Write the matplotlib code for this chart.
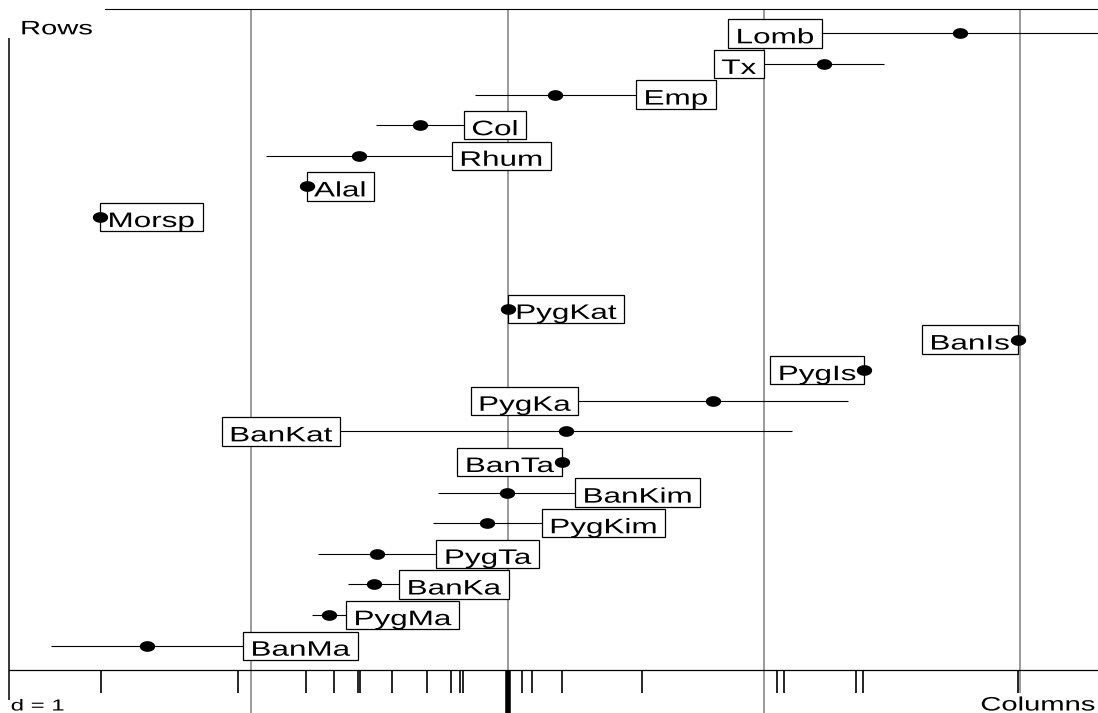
import numpy as np
import matplotlib
matplotlib.use("Agg")
import matplotlib.pyplot as plt
from matplotlib.patches import Rectangle
from matplotlib.path import Path
from matplotlib.patheffects import AbstractPathEffect
from matplotlib.transforms import Affine2D, IdentityTransform

plt.rcParams['font.family'] = ['Liberation Sans', 'DejaVu Sans']

# ---------------- data ----------------
row_names = ["Lomb", "Tx", "Emp", "Col", "Rhum", "Alal", "Morsp", None, None,
             "PygKat", "BanIs", "PygIs", "PygKa", "BanKat", "BanTa", "BanKim",
             "PygKim", "PygTa", "BanKa", "PygMa", "BanMa"]
row_means = [1.765, 1.234, 0.186, -0.343, -0.581, -0.785, -1.591, np.nan, np.nan,
             0.0, 1.990, 1.390, 0.802, 0.229, 0.212, -0.004,
             -0.080, -0.509, -0.523, -0.697, -1.408]
row_sds = [0.538, 0.234, 0.315, 0.172, 0.363, 0.0, 0.0, np.nan, np.nan,
           0.0, 0.0, 0.0, 0.526, 0.882, 0.0, 0.267,
           0.213, 0.231, 0.0995, 0.066, 0.375]
label_side = ["left", "left", "right", "right", "right", "right", "right", None, None,
              "right", "left", "left", "left", "left", "left", "right",
              "right", "right", "right", "right", "right"]
col_scores = [-1.588, -1.051, -0.787, -0.678, -0.584, -0.576, -0.452, -0.313,
              -0.221, -0.186, -0.174, 0.0, 0.056, 0.095, 0.212, 0.526,
              1.053, 1.078, 1.359, 1.386, 1.993]
grid_values = [-1, 0, 1, 2]
d_value = 1

# ---------------- style ----------------
W, H = 1098, 713
SX = 1.5          # horizontal stretch of the original rendering
GRAY = "#8a8a8a"


class HStretch(AbstractPathEffect):
    def __init__(self, sx):
        super().__init__()
        self._sx = sx

    def draw_path(self, renderer, gc, tpath, affine, rgbFace=None):
        renderer.draw_path(gc, tpath, Affine2D().scale(self._sx, 1.0) + affine, rgbFace)


theta = np.linspace(0, 2 * np.pi, 64)
ellipse = Path(np.column_stack([1.5 * np.cos(theta), np.sin(theta)]), closed=True)

fig = plt.figure(figsize=(W / 100, H / 100), dpi=100)
left_px, top_px = 9.3, 9.0
ax = fig.add_axes([left_px / W, 0, 1 - left_px / W, 1 - top_px / H])

n = len(row_names)
margin = 0.794
rows_top, rows_bottom = -margin, (n - 1) + margin
ax.set_xlim(-1.945, 2.304)
ax.set_ylim(22.197, rows_top)
ax.set_xticks([])
ax.set_yticks([])
for s in ("right", "bottom"):
    ax.spines[s].set_visible(False)
ax.spines["left"].set_linewidth(1.1)
ax.spines["top"].set_linewidth(0.8)

ylo, yhi = ax.get_ylim()
ax.vlines(grid_values, yhi, ylo, color=GRAY, lw=1.2, zorder=1)
ax.axhline(rows_bottom, color="black", lw=0.9, zorder=2)

ys = np.arange(n)
means = np.array(row_means)
sds = np.array(row_sds)
valid = ~np.isnan(means)
ax.hlines(ys[valid], (means - sds)[valid], (means + sds)[valid], color="black", lw=0.8, zorder=2)
ax.plot(means[valid], ys[valid], ls="none", marker=ellipse, ms=10, color="black", zorder=6)

# rug of column scores
ax.vlines(col_scores, rows_bottom, rows_bottom + 0.75, color="black", lw=1.2, zorder=2)
ax.vlines([0], rows_bottom, ylo, color="black", lw=4, zorder=2)

fig.canvas.draw()
renderer = fig.canvas.get_renderer()
p0 = ax.transData.transform((0, 0))
p1 = ax.transData.transform((1, 1))
ppx, ppy = p1[0] - p0[0], p0[1] - p1[1]

pad_px, box_h_px, base_px = 7.5, 28.4, 10.0
for i, name in enumerate(row_names):
    if name is None:
        continue
    m, s = row_means[i], row_sds[i]
    t = ax.text(0, i + base_px / ppy, name, fontsize=15.1, ha="left", va="baseline",
                path_effects=[HStretch(SX)], zorder=4)
    w_px = t.get_window_extent(renderer).width * SX
    bw = (w_px + 2 * pad_px) / ppx
    if label_side[i] == "right":
        bx = m + s
    else:
        bx = m - s - bw
    t.set_x(bx + pad_px / ppx)
    ax.add_patch(Rectangle((bx, i - box_h_px / 2 / ppy), bw, box_h_px / ppy,
                           fc="white", ec="black", lw=0.9, zorder=3))

# corner captions
ident = IdentityTransform()
fig.add_artist(Rectangle((0, H - 38), 105, 38, transform=ident, fc="white", ec="none", zorder=5))
fig.add_artist(Rectangle((967, 0), W - 967, 20, transform=ident, fc="white", ec="none", zorder=5))
fig.add_artist(Rectangle((0, 0), 72, 13, transform=ident, fc="white", ec="none", zorder=5))

fig.text(20 / W, (H - 34.3) / H, "Rows", fontsize=14, ha="left", va="baseline",
         path_effects=[HStretch(SX)], zorder=6)
fig.text(10.7 / W, 2.5 / H, f"d = {d_value}", fontsize=11.5, ha="left", va="baseline",
         path_effects=[HStretch(SX)], zorder=6)
tc = fig.text(0, 2.5 / H, "Columns", fontsize=14, ha="left", va="baseline",
              path_effects=[HStretch(SX)], zorder=6)
wc = tc.get_window_extent(renderer).width * SX
tc.set_x((1096 - wc) / W)

fig.savefig("out.png", dpi=100)
